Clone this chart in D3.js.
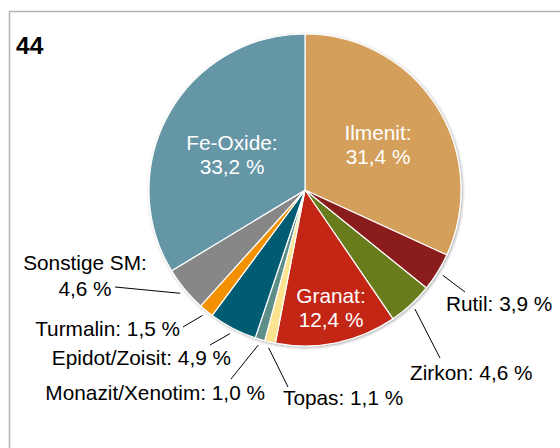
<!DOCTYPE html>
<html>
<head>
<meta charset="utf-8">
<script src="https://cdn.jsdelivr.net/npm/d3@7"></script>
<style>
  html, body { margin: 0; padding: 0; background: #fff; }
  #viz { width: 560px; height: 448px; }
  text { font-family: "Liberation Sans", Arial, sans-serif; }
</style>
</head>
<body>
<div id="viz"></div>
<script>
// minerals, clockwise from 12 o'clock
const minerals = ['Ilmenit', 'Rutil', 'Zirkon', 'Granat', 'Topas', 'Monazit/Xenotim',
    'Epidot/Zoisit', 'Turmalin', 'Sonstige SM', 'Fe-Oxide'];
const shares = [31.4, 3.9, 4.6, 12.4, 1.1, 1.0, 4.9, 1.5, 4.6, 33.2];
const colors = ['#d49f5a', '#8a1c1b', '#677b1a', '#c42716', '#fbe38f', '#5e8d88',
    '#035c72', '#f39100', '#878787', '#6596a6'];
const chartTitle = '44';

// label placement (layout only): inside labels [x,y] of text centre,
// outside labels: text anchor + leader end point
const insideLabel = {
    'Ilmenit': [378, 133],
    'Granat': [331, 296],
    'Fe-Oxide': [232, 143],
};
const outsideLabel = {
    'Rutil': { x: 446, y: 304, anchor: 'start', end: [465, 292] },
    'Zirkon': { x: 410, y: 373, anchor: 'start', end: [440, 358] },
    'Topas': { x: 283, y: 398, anchor: 'start', end: [288, 387] },
    'Monazit/Xenotim': { x: 265, y: 393, anchor: 'end', end: [231, 379] },
    'Epidot/Zoisit': { x: 231, y: 358, anchor: 'end', end: [210, 345] },
    'Turmalin': { x: 180, y: 329, anchor: 'end', end: [183, 327] },
    'Sonstige SM': { x: 85, y: 263, anchor: 'middle', end: [115, 287], twoLines: true },
};

const fmt = (v) => d3.format('.1f')(v).replace('.', ',') + ' %';
const fontSize = 20.8;

const svg = d3
    .select('#viz')
    .append('svg')
    .attr('width', 560)
    .attr('height', 448);

// frame (only left/top edges are inside the picture)
svg.append('rect')
    .attr('x', 9.5)
    .attr('y', 11.5)
    .attr('width', 600)
    .attr('height', 500)
    .attr('fill', '#fff')
    .attr('stroke', '#b3b3b3')
    .attr('stroke-width', 1.5);

svg.append('text')
    .attr('x', 16)
    .attr('y', 53.5)
    .attr('font-size', 24.5)
    .attr('font-weight', 'bold')
    .text(chartTitle);

const defs = svg.append('defs');
const shadow = defs.append('filter').attr('id', 'shadow')
    .attr('x', '-10%').attr('y', '-10%').attr('width', '120%').attr('height', '120%');
shadow.append('feGaussianBlur').attr('in', 'SourceAlpha').attr('stdDeviation', 1.6);
shadow.append('feOffset').attr('dx', 0.5).attr('dy', 0.5).attr('result', 'blur');
shadow.append('feComponentTransfer').append('feFuncA').attr('type', 'linear').attr('slope', 0.35);
const merge = shadow.append('feMerge');
merge.append('feMergeNode');
merge.append('feMergeNode').attr('in', 'SourceGraphic');

const cx = 305;
const cy = 190;
const radius = 156;

const data = minerals.map((name, i) => ({ name, value: shares[i], color: colors[i] }));

const pie = d3.pie().sort(null).value((d) => d.value);
const arc = d3.arc().innerRadius(0).outerRadius(radius);
const arcs = pie(data);

const g = svg.append('g').attr('transform', `translate(${cx},${cy})`);

g.append('g')
    .attr('filter', 'url(#shadow)')
    .selectAll('path')
    .data(arcs)
    .join('path')
    .attr('d', arc)
    .attr('fill', (d) => d.data.color)
    .attr('stroke', '#fff')
    .attr('stroke-width', 1.2)
    .attr('stroke-linejoin', 'round');

// inside labels
svg.append('g')
    .selectAll('text')
    .data(arcs.filter((d) => insideLabel[d.data.name]))
    .join('text')
    .attr('text-anchor', 'middle')
    .attr('font-size', fontSize)
    .attr('fill', '#fff')
    .each(function (d) {
        const [x, y] = insideLabel[d.data.name];
        const lines = [d.data.name + ':', fmt(d.data.value)];
        d3.select(this)
            .selectAll('tspan')
            .data(lines)
            .join('tspan')
            .attr('x', x)
            .attr('y', (t, j) => y + 7 + j * 24)
            .text((t) => t);
    });

// outside labels with leader lines
const outer = arcs.filter((d) => outsideLabel[d.data.name]);
const leaderStart = d3.arc().innerRadius(radius + 6).outerRadius(radius + 6);

svg.append('g')
    .selectAll('line')
    .data(outer)
    .join('line')
    .each(function (d) {
        const [sx, sy] = leaderStart.centroid(d);
        const [ex, ey] = outsideLabel[d.data.name].end;
        d3.select(this)
            .attr('x1', cx + sx)
            .attr('y1', cy + sy)
            .attr('x2', ex)
            .attr('y2', ey);
    })
    .attr('stroke', '#000')
    .attr('stroke-width', 1);

svg.append('g')
    .selectAll('text')
    .data(outer)
    .join('text')
    .attr('font-size', fontSize)
    .attr('fill', '#000')
    .each(function (d) {
        const o = outsideLabel[d.data.name];
        const lines = o.twoLines
            ? [d.data.name + ':', fmt(d.data.value)]
            : [d.data.name + ': ' + fmt(d.data.value)];
        d3.select(this)
            .attr('text-anchor', o.anchor)
            .selectAll('tspan')
            .data(lines)
            .join('tspan')
            .attr('x', o.x)
            .attr('y', (t, j) => o.y + 7 + j * 26)
            .text((t) => t);
    });
</script>
</body>
</html>
